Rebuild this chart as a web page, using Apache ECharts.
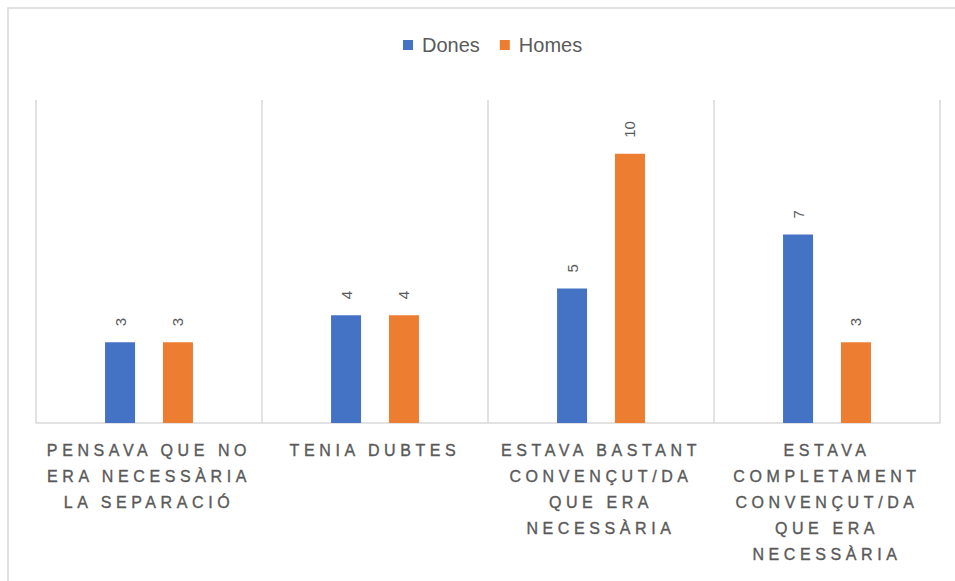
<!DOCTYPE html>
<html>
<head>
<meta charset="utf-8">
<script src="https://cdn.jsdelivr.net/npm/echarts@6/dist/echarts.min.js"></script>
<style>
  html, body { margin: 0; padding: 0; background: #ffffff; }
  #chart { width: 955px; height: 581px; }
  /* spaced capitals for the category names */
  #chart text[fill="#595959"] {
    letter-spacing: 4.6px;
    stroke: #595959;
    stroke-width: 0.35px;
  }
</style>
</head>
<body>
<div id="chart"></div>
<script>
// Survey answers split by gender
const categories = [
  'PENSAVA QUE NO\nERA NECESSÀRIA\nLA SEPARACIÓ',
  'TENIA DUBTES',
  'ESTAVA BASTANT\nCONVENÇUT/DA\nQUE ERA\nNECESSÀRIA',
  'ESTAVA\nCOMPLETAMENT\nCONVENÇUT/DA\nQUE ERA\nNECESSÀRIA'
];
const seriesNames = ['Dones', 'Homes'];
const dones = [3, 4, 5, 7];
const homes = [3, 4, 10, 3];

const FONT = '"Liberation Sans", Arial, sans-serif';
const GRID = '#d9d9d9';
const TEXT = '#5a5a5a';

const chart = echarts.init(document.getElementById('chart'), null, { renderer: 'svg' });

function barSeries(name, data, color) {
  return {
    name: name,
    type: 'bar',
    data: data,
    barWidth: 30,
    barGap: '93%',
    itemStyle: { color: color },
    label: {
      show: true,
      position: 'top',
      distance: 16,
      rotate: 90,
      align: 'left',
      verticalAlign: 'middle',
      color: TEXT,
      fontFamily: FONT,
      fontSize: 15
    }
  };
}

chart.setOption({
  backgroundColor: '#ffffff',
  animation: false,
  graphic: [{
    type: 'rect',
    silent: true,
    shape: { x: 8, y: 8, width: 1000, height: 640 },
    style: { fill: 'none', stroke: GRID, lineWidth: 1.5 }
  }],
  legend: {
    data: seriesNames,
    left: 398,
    top: 30,
    icon: 'rect',
    itemWidth: 10,
    itemHeight: 10,
    itemGap: 20,
    textStyle: {
      color: TEXT,
      fontFamily: FONT,
      fontSize: 20,
      padding: [0, 0, 0, 4]
    }
  },
  grid: { left: 36, right: 15, top: 100, bottom: 158, containLabel: false },
  xAxis: {
    type: 'category',
    data: categories,
    axisLine: { show: true, lineStyle: { color: GRID, width: 1.5 } },
    axisTick: { show: false },
    splitLine: { show: true, lineStyle: { color: GRID, width: 1.5 } },
    axisLabel: {
      interval: 0,
      margin: 14,
      color: '#595959',
      fontFamily: FONT,
      fontSize: 16,
      lineHeight: 26
    }
  },
  yAxis: {
    type: 'value',
    min: 0,
    max: 12,
    show: false,
    splitLine: { show: false }
  },
  series: [
    barSeries(seriesNames[0], dones, '#4472C4'),
    barSeries(seriesNames[1], homes, '#ED7D31')
  ]
});
</script>
</body>
</html>
